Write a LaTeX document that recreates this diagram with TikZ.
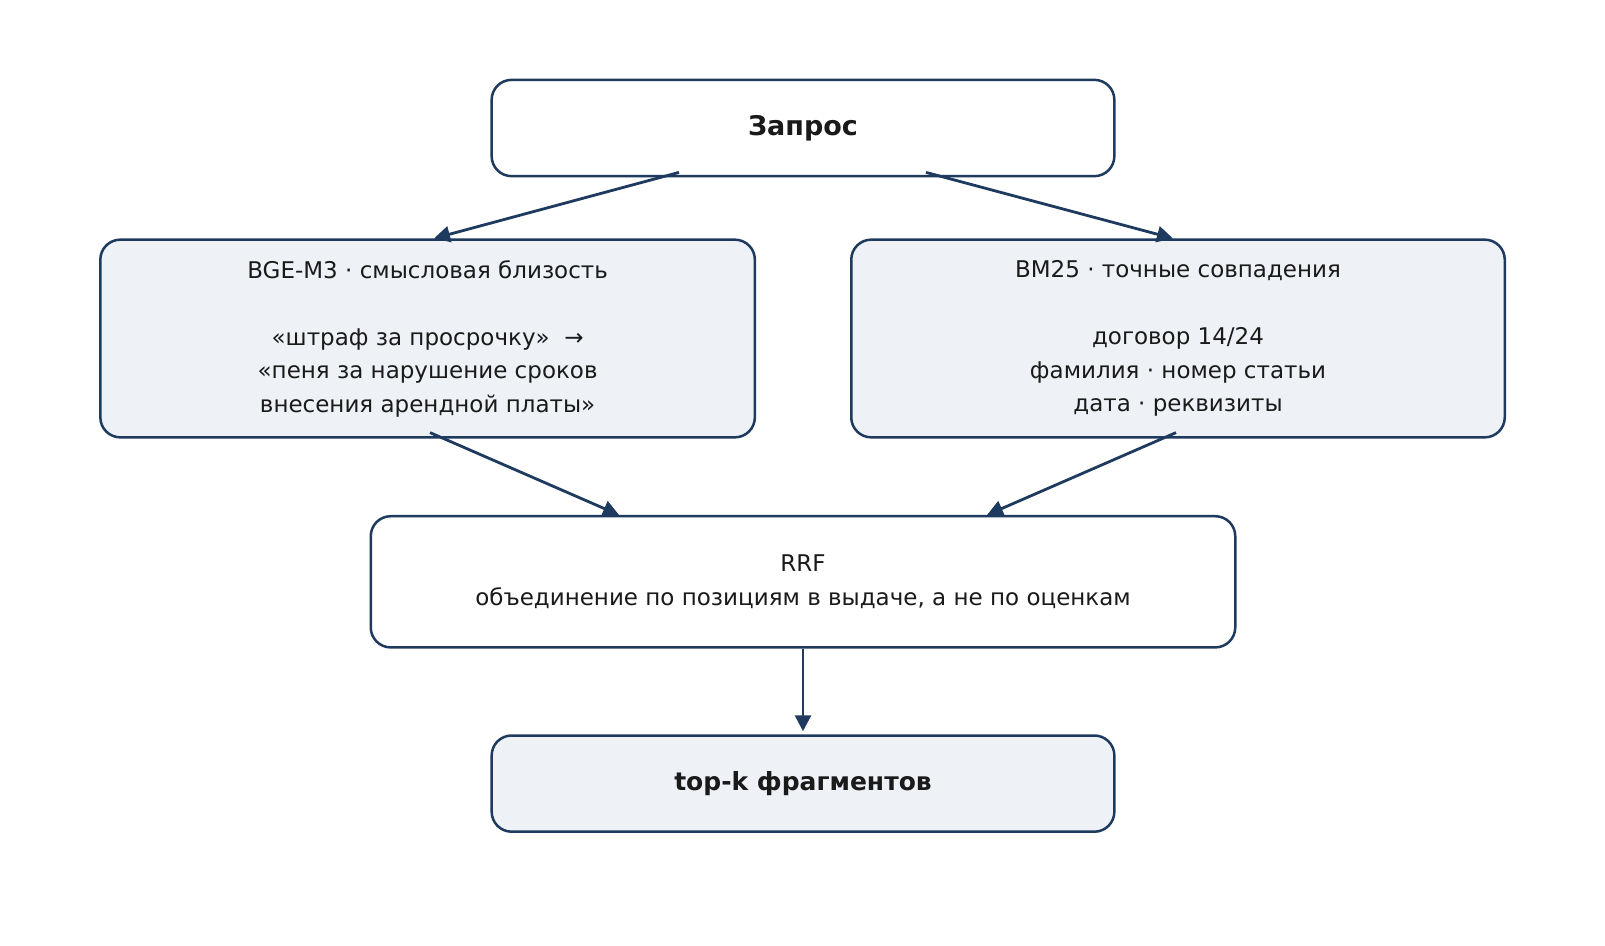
\documentclass[tikz,border=0pt]{standalone}
\usepackage{fontspec}
\setmainfont{DejaVu Sans}
\usetikzlibrary{arrows.meta}
\definecolor{edge}{HTML}{1F3A5F}
\definecolor{boxfill}{HTML}{EEF2F7}
\definecolor{txt}{HTML}{1A1A1A}
\tikzset{
  box/.style={draw=edge, line width=2.5pt, rounded corners=20pt, align=center,
    text=txt, inner sep=0pt, font=\fontsize{23}{33.5}\selectfont},
  filled/.style={fill=boxfill},
  plain/.style={fill=white},
  boldtext/.style={font=\fontsize{25}{30}\selectfont\bfseries},
  conn/.style={draw=edge, line width=2.8pt, -{Triangle[length=16pt,width=16pt]}},
}
\begin{document}
\begin{tikzpicture}[x=1pt,y=-1pt]
\useasboundingbox (0,0) rectangle (1605,945);
\fill[white] (0,0) rectangle (1605,945);
\node[box,plain,boldtext,font=\fontsize{27}{30}\selectfont\bfseries,minimum width=622.7pt,minimum height=96.3pt] (q) at (803,128) {Запрос};
\node[box,filled,minimum width=654.5pt,minimum height=197.7pt] (l) at (427.6,338.5)
  {BGE-M3 · смысловая близость\\[33.5pt]«штраф за просрочку»\ \ →\\«пеня за нарушение сроков\\внесения арендной платы»};
\node[box,filled,minimum width=653.5pt,minimum height=197.7pt] (r) at (1178,338.5)
  {BM25 · точные совпадения\\[33.5pt]договор 14/24\\фамилия · номер статьи\\дата · реквизиты};
\node[box,plain,minimum width=864.5pt,minimum height=131.2pt] (f) at (803,581.8)
  {RRF\\объединение по позициям в выдаче, а не по оценкам};
\node[box,filled,boldtext,minimum width=622.7pt,minimum height=96.2pt] (t) at (803,783.6) {top-k фрагментов};

\coordinate (q1) at ([xshift=-124pt,yshift=5pt]q.south);
\coordinate (q2) at ([xshift=123pt,yshift=5pt]q.south);
\coordinate (l1) at ([xshift=6.4pt]l.north);
\coordinate (r1) at ([xshift=-5pt]r.north);
\coordinate (l2) at ([xshift=2.4pt,yshift=6pt]l.south);
\coordinate (r2) at ([xshift=-2pt,yshift=6pt]r.south);
\coordinate (f1) at ([xshift=-184pt]f.north);
\coordinate (f2) at ([xshift=184pt]f.north);
\coordinate (t1) at ([yshift=3pt]t.north);

\draw[conn] (q1) -- (l1);
\draw[conn] (q2) -- (r1);
\draw[conn] (l2) -- (f1);
\draw[conn] (r2) -- (f2);
\draw[conn] (f.south) -- (t1);
\end{tikzpicture}
\end{document}
